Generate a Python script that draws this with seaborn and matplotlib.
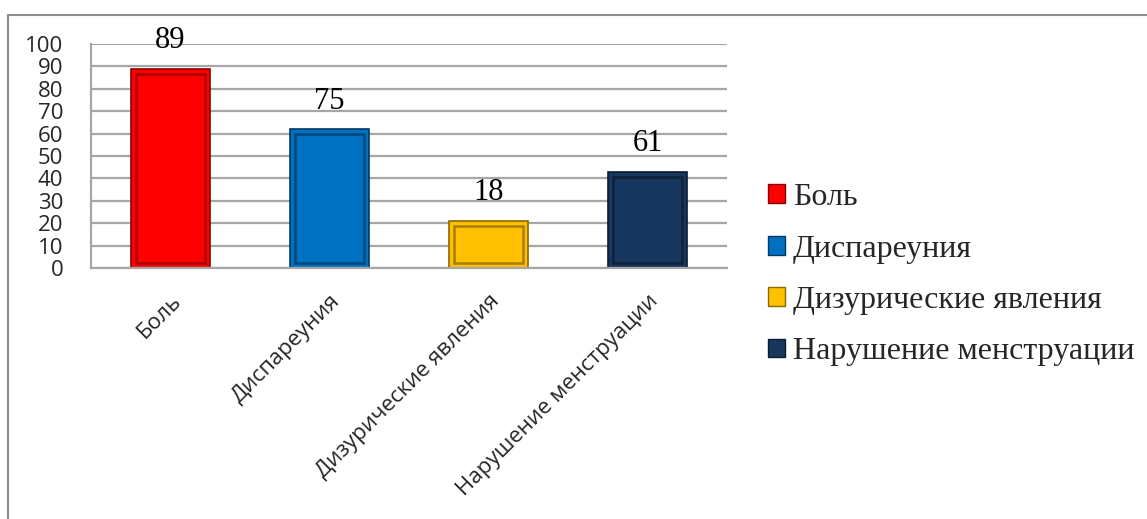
import matplotlib
matplotlib.use("Agg")
import matplotlib.pyplot as plt
import seaborn as sns
import numpy as np
import pandas as pd
from matplotlib.patches import Rectangle, Patch
from matplotlib.lines import Line2D

categories = ["Боль", "Диспареуния", "Дизурические явления", "Нарушение менструации"]
values = [89, 62, 21, 43]
label_texts = ["89", "75", "18", "61"]
colors = ["#FF0000", "#0070C0", "#FFC000", "#17375E"]
edge_colors = ["#8B0000", "#003A66", "#8A6800", "#0B1B30"]
y_ticks = [0, 10, 20, 30, 40, 50, 60, 70, 80, 90, 100]

sns.set_style("white")
plt.rcParams["font.family"] = ["Open Sans", "DejaVu Sans"]

fig = plt.figure(figsize=(11.47, 5.19), dpi=100)
ax = fig.add_axes([0.0793, 0.4836, 0.5545, 0.4316])

df = pd.DataFrame({"cat": categories, "val": values})
sns.barplot(data=df, x="cat", y="val", hue="cat", palette=colors, legend=False,
            width=0.5, ax=ax, saturation=1, order=categories, hue_order=categories)

# bevel-like decoration on each bar
for p, ec in zip(ax.patches, edge_colors):
    p.set_edgecolor(ec)
    p.set_linewidth(1.2)
    x, y = p.get_x(), p.get_y()
    w, h = p.get_width(), p.get_height()
    dx, dy = 0.032, 2.2
    inner = Rectangle((x + dx, y + dy), w - 2 * dx, h - 2 * dy, fill=False,
                      edgecolor=ec, linewidth=1.8, alpha=0.75, zorder=p.get_zorder() + 0.1)
    ax.add_patch(inner)

for p, t in zip(ax.patches[:len(categories)], label_texts):
    ax.annotate(t, (p.get_x() + p.get_width() / 2, p.get_height()),
                xytext=(0, 28), textcoords="offset pixels",
                ha="center", va="center", fontsize=22, family="Liberation Serif",
                color="black")

ax.set_ylim(0, 100)
ax.set_xlim(-0.5, 3.5)
ax.set_yticks(y_ticks)
ax.set_yticklabels([str(v) for v in y_ticks], fontsize=16)
ax.yaxis.grid(True, color="#A6A6A6", linewidth=1.6)
ax.set_axisbelow(True)
ax.set_xlabel("")
ax.set_ylabel("")

ax.set_xticks([-0.5, 0.5, 1.5, 2.5, 3.5])
ax.set_xticklabels([])
ax.set_xticks(range(len(categories)), minor=True)
ax.set_xticklabels(categories, minor=True, rotation=45, ha="right",
                   rotation_mode="anchor", fontsize=16)
ax.tick_params(axis="x", which="minor", length=0, pad=16)
ax.tick_params(axis="x", which="major", length=8, width=1.5, color="#A6A6A6", direction="out")
ax.tick_params(axis="y", which="major", length=7, width=1.5, color="#A6A6A6", direction="out", pad=13)

for s in ["top", "right"]:
    ax.spines[s].set_visible(False)
for s in ["left", "bottom"]:
    ax.spines[s].set_visible(True)
    ax.spines[s].set_color("#A6A6A6")
    ax.spines[s].set_linewidth(1.6)

handles = [Patch(facecolor=c, edgecolor=e, linewidth=1.0) for c, e in zip(colors, edge_colors)]
leg = fig.legend(handles, categories, loc="upper left", bbox_to_anchor=(0.6696, 0.647),
                 frameon=False, prop={"family": "Liberation Serif", "size": 23},
                 handlelength=0.53, handleheight=0.53, handletextpad=0.25, labelspacing=0.70,
                 borderpad=0, borderaxespad=0)

# outer chart border (top and left visible)
fig.add_artist(Line2D([8 / 1147, 1.0], [1 - 15 / 519, 1 - 15 / 519], transform=fig.transFigure,
                      color="#8C8C8C", linewidth=1.5))
fig.add_artist(Line2D([8 / 1147, 8 / 1147], [0.0, 1 - 15 / 519], transform=fig.transFigure,
                      color="#8C8C8C", linewidth=1.5))

fig.savefig("out.png", dpi=100)
